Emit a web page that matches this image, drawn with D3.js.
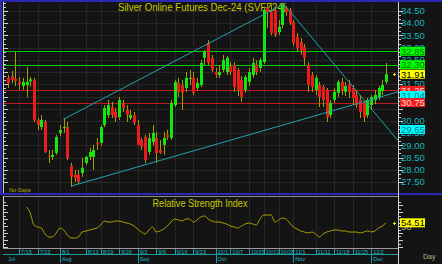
<!DOCTYPE html>
<html>
<head>
<meta charset="utf-8">
<script src="https://cdn.jsdelivr.net/npm/d3@7"></script>
<style>
  body { margin: 0; background: #141414; }
  svg { display: block; font-family: "Liberation Sans", Arial, sans-serif; }
</style>
</head>
<body>
<script>
// daily candles
var opens = [31.76,31.84,31.72,31.60,31.43,31.47,31.62,31.68,30.04,29.75,
  29.96,28.57,28.53,28.69,29.51,29.71,29.75,28.16,27.79,27.79,
  27.87,28.28,28.53,28.53,29.10,29.10,29.83,30.24,30.57,30.37,
  30.16,30.74,30.45,30.12,30.24,29.83,29.22,29.34,28.73,29.14,
  29.30,28.81,29.02,29.43,29.30,30.65,31.55,31.47,31.35,31.72,
  31.76,31.35,31.47,32.58,33.19,32.58,32.00,31.88,32.09,32.00,
  32.21,32.29,32.09,31.68,31.27,31.60,31.88,32.29,32.17,32.41,
  34.62,34.46,34.54,33.64,33.93,34.62,34.54,34.05,33.44,33.23,
  33.03,32.29,31.88,31.27,31.47,31.39,31.27,30.24,30.86,31.15,
  31.60,31.19,31.51,31.35,31.06,30.86,30.74,30.24,30.65,30.86,
  30.98,31.23,31.60];
var highs = [31.88,32.05,32.82,31.80,31.76,32.21,31.80,31.76,30.12,30.24,
  30.04,28.81,28.81,29.43,29.83,30.12,29.96,28.28,27.99,27.99,
  28.49,28.57,28.90,29.02,29.30,29.83,30.65,30.86,30.78,30.53,
  30.98,30.86,30.65,30.45,30.37,30.04,29.30,29.43,29.51,29.83,
  29.55,29.22,29.55,29.63,30.86,31.68,31.76,31.68,32.00,32.09,
  32.00,31.76,32.49,32.90,33.31,32.70,32.17,32.29,32.70,32.66,
  32.41,32.41,32.17,31.84,31.88,32.17,32.58,32.49,32.58,34.66,
  34.79,34.75,34.66,34.13,34.83,34.70,34.62,34.13,33.60,33.39,
  33.15,32.41,32.00,31.88,31.60,31.47,31.35,30.86,31.35,31.68,
  31.76,31.60,31.68,31.47,31.27,31.06,30.86,30.94,31.06,31.27,
  31.43,31.68,32.37];
var lows = [31.35,31.55,31.43,31.27,31.27,30.98,31.40,29.96,29.63,29.63,
  28.69,28.28,28.40,28.61,29.38,29.51,28.40,27.30,27.51,27.42,
  27.71,28.20,28.40,27.99,28.81,28.98,29.75,30.12,30.12,29.96,
  30.04,30.37,29.96,30.04,29.83,29.02,28.81,28.28,28.61,28.98,
  28.28,28.65,28.61,29.22,29.22,30.57,30.98,30.45,31.19,31.47,
  31.06,31.23,31.39,32.29,32.29,32.00,31.76,31.76,32.00,31.88,
  31.88,31.19,31.02,30.78,31.15,31.43,31.76,31.88,32.00,32.33,
  33.80,33.52,33.44,33.52,33.80,34.30,33.93,33.07,32.82,32.70,
  32.25,31.19,31.19,31.06,30.57,30.57,29.96,30.12,30.74,30.98,
  31.06,31.02,30.94,30.65,30.53,30.12,29.96,30.12,30.45,30.69,
  30.86,31.06,31.51];
var closes = [31.55,31.68,31.64,31.51,31.60,31.60,31.70,30.04,29.83,30.04,
  28.73,28.53,28.61,29.34,29.63,29.75,28.49,27.71,27.67,27.51,
  28.08,28.53,28.73,28.81,29.04,29.75,30.53,30.65,30.24,30.12,
  30.86,30.53,30.24,30.24,29.92,29.02,28.94,28.40,29.30,29.51,
  28.69,28.69,29.30,29.34,30.74,31.60,31.19,31.15,31.76,31.76,
  31.15,31.55,32.37,32.82,32.37,32.09,31.88,32.00,32.49,32.58,
  32.00,31.39,31.27,30.98,31.80,32.00,32.37,32.00,32.49,34.54,
  34.46,33.60,33.52,33.85,34.75,34.46,34.01,33.19,32.99,32.90,
  32.58,31.47,31.39,31.76,30.98,30.86,30.16,30.74,31.19,31.60,
  31.27,31.43,31.19,30.94,30.65,30.37,30.16,30.86,30.98,31.06,
  31.35,31.47,31.91];

// relative strength index, one value per candle (blank before it starts)
var rsiValues = [null,null,null,null,null,
  77.1,68.6,51.4,48.6,47.1,38.6,34.3,34.3,40.0,47.1,
  44.3,37.1,32.9,32.9,34.3,41.4,42.9,44.3,45.7,47.1,
  51.4,57.1,55.7,55.7,57.1,57.1,55.7,54.3,52.9,50.0,
  45.7,41.4,38.6,44.3,48.6,41.4,42.9,45.7,50.0,55.7,
  60.0,58.6,57.1,60.0,60.0,55.7,58.6,62.9,64.3,60.0,
  57.1,55.7,55.7,54.3,52.9,50.0,48.6,47.1,50.0,52.9,
  54.3,52.9,51.4,60.0,65.7,65.7,65.7,55.7,58.6,61.4,
  60.0,54.3,48.6,45.7,42.9,41.4,40.0,41.4,38.6,34.3,
  38.6,41.4,42.9,44.3,44.3,42.9,42.9,41.4,41.4,41.4,
  40.0,41.4,42.9,41.4,42.9,47.1,50.0,54.51];

// date axis: labels and the candle they sit on
var dayLabels = ["7/15","7/23","8/1","8/13","8/19","8/26","9/3","9/9","9/16","9/23",
  "10/1","10/7","10/15","10/21","10/28","11/1","11/11","11/18","11/25","12/2"];
var dayIndex = [3,8,14,21,25,30,35,40,45,50,56,60,65,69,73,77,83,88,93,98];
var monthLabels = ["Jul","Aug","Sep","Oct","Nov","Dec"];
var monthIndex = [-1,14,35,56,77,98];

// price levels
var levelValues = [32.85, 32.30, 31.25, 30.75];
var levelKinds = ["green","green","red","red"];

// trend lines: [candle index, price] anchors
var trendLines = [
  [[15, 30.07], [60, 33.64]],
  [[17, 27.33], [100, 30.96]],
  [[75, 34.68], [102, 29.78]]
];

// right-hand price tags
var tagValues = [32.85, 32.30, 31.91, 31.25, 31.04, 30.75, 29.65];
var tagKinds = ["green","green","yellow","red","cyan","red","cyan"];

var priceTicks = d3.range(27.5, 34.51, 0.5);
// tick labels the chart still prints (the others sit under a tag)
var priceLabels = [27.5, 28, 28.5, 29, 29.5, 30, 31.5, 32.5, 33, 33.5, 34, 34.5];

var tagStyle = {
  green: {fill: "#00ff00", text: "#007a00"},
  yellow: {fill: "#ffff00", text: "#000000"},
  red: {fill: "#ee1c1c", text: "#ffd6d6"},
  cyan: {fill: "#00ffff", text: "#007f86"}
};
var lineColor = {green: "#00cc00", red: "#b81c1c"};

var W = 442, H = 264;
var plot = {left: 4, right: 398, top: 3, bottom: 193};
var rsiBox = {top: 196, bottom: 248};

var n = closes.length;
var x = d3.scaleLinear().domain([0, n - 1]).range([8, 386]);
var y = d3.scaleLinear().domain([27.5, 34.5]).range([182, 11]);
var yR = d3.scaleLinear().domain([20, 90]).range([247, 198]);

var svg = d3.select("body").append("svg")
    .attr("width", W)
    .attr("height", H);

svg.append("rect").attr("width", W).attr("height", H).attr("fill", "#141414");

var defs = svg.append("defs");
defs.append("clipPath").attr("id", "clipMain").append("rect")
    .attr("x", plot.left).attr("y", plot.top)
    .attr("width", plot.right - plot.left).attr("height", plot.bottom - plot.top);

// grid
var grid = svg.append("g").attr("stroke", "#272727").attr("shape-rendering", "crispEdges");
grid.selectAll(".hg").data(priceTicks).enter().append("line")
    .attr("x1", plot.left).attr("x2", plot.right)
    .attr("y1", d => Math.round(y(d)) + 0.5).attr("y2", d => Math.round(y(d)) + 0.5);
grid.selectAll(".vg").data(dayIndex).enter().append("line")
    .attr("x1", d => Math.round(x(d)) + 0.5).attr("x2", d => Math.round(x(d)) + 0.5)
    .attr("y1", plot.top).attr("y2", plot.bottom);
grid.selectAll(".vr").data(dayIndex).enter().append("line")
    .attr("x1", d => Math.round(x(d)) + 0.5).attr("x2", d => Math.round(x(d)) + 0.5)
    .attr("y1", rsiBox.top).attr("y2", rsiBox.bottom);

// title
svg.append("text")
    .attr("x", 202).attr("y", 11)
    .attr("text-anchor", "middle")
    .attr("font-size", 11)
    .attr("textLength", 168).attr("lengthAdjust", "spacingAndGlyphs")
    .attr("fill", "#c8c800")
    .text("Silver Online Futures Dec-24 (SVFZ24)");

var main = svg.append("g").attr("clip-path", "url(#clipMain)");

// horizontal levels
main.selectAll(".lvl").data(levelValues).enter().append("rect")
    .attr("x", plot.left).attr("width", plot.right - plot.left)
    .attr("y", d => Math.round(y(d))).attr("height", 1)
    .attr("fill", (d, i) => lineColor[levelKinds[i]]);

// candles
var idx = d3.range(n);
main.selectAll(".wick").data(idx).enter().append("line")
    .attr("x1", i => Math.round(x(i)) + 0.5).attr("x2", i => Math.round(x(i)) + 0.5)
    .attr("y1", i => y(highs[i])).attr("y2", i => y(lows[i]))
    .attr("stroke", "#a39d00");
main.selectAll(".body").data(idx).enter().append("rect")
    .attr("x", i => Math.round(x(i)) - 1)
    .attr("width", 3)
    .attr("y", i => y(Math.max(opens[i], closes[i])))
    .attr("height", i => Math.max(1, Math.abs(y(opens[i]) - y(closes[i]))))
    .attr("fill", i => closes[i] >= opens[i] ? "#10e810" : "#ec1c1c");

// trend lines, extended through the plot
var idxRight = x.invert(plot.right);
main.selectAll(".trend").data(trendLines).enter().append("line")
    .attr("x1", d => x(d[0][0]))
    .attr("y1", d => y(d[0][1]))
    .attr("x2", x(idxRight))
    .attr("y2", d => y(d[0][1] + (d[1][1] - d[0][1]) * (idxRight - d[0][0]) / (d[1][0] - d[0][0])))
    .attr("stroke", "#1fa3ad")
    .attr("stroke-width", 1);

svg.append("text").attr("x", 9).attr("y", 191.5)
    .attr("font-size", 5.5).attr("fill", "#b0a800").text("No Gaps");

// RSI panel
svg.append("text")
    .attr("x", 200).attr("y", 207)
    .attr("text-anchor", "middle")
    .attr("font-size", 10)
    .attr("textLength", 95).attr("lengthAdjust", "spacingAndGlyphs")
    .attr("fill", "#c8c800")
    .text("Relative Strength Index");

svg.append("path")
    .datum(idx)
    .attr("fill", "none")
    .attr("stroke", "#aaa000")
    .attr("stroke-width", 1)
    .attr("d", d3.line()
        .defined(i => rsiValues[i] != null)
        .x(i => x(i))
        .y(i => yR(rsiValues[i]))
        .curve(d3.curveMonotoneX));

// frames
svg.append("rect").attr("x", 0).attr("y", 0).attr("width", W).attr("height", 2).attr("fill", "#2a2ab4");
svg.append("rect").attr("x", 0).attr("y", 0).attr("width", 2).attr("height", 195).attr("fill", "#2a2ab4");
svg.append("rect").attr("x", 0).attr("y", 193).attr("width", W).attr("height", 2).attr("fill", "#2a2ab4");
svg.append("line").attr("x1", 3).attr("x2", plot.right).attr("y1", 196.5).attr("y2", 196.5).attr("stroke", "#8a8a8a");

// axes lines
var ax = svg.append("g").attr("stroke", "#cfcfcf").attr("shape-rendering", "crispEdges");
ax.append("line").attr("x1", 398.5).attr("x2", 398.5).attr("y1", 2).attr("y2", H);
ax.append("line").attr("x1", 3.5).attr("x2", 3.5).attr("y1", 2).attr("y2", plot.bottom);
ax.append("line").attr("x1", 3.5).attr("x2", 3.5).attr("y1", rsiBox.top).attr("y2", rsiBox.bottom);

var minor = d3.range(27.5, 34.51, 0.5 / 3);
ax.selectAll(".rt").data(minor).enter().append("line")
    .attr("x1", 399).attr("x2", (d, i) => i % 3 === 0 ? 403 : 401)
    .attr("y1", d => Math.round(y(d)) + 0.5).attr("y2", d => Math.round(y(d)) + 0.5);
ax.selectAll(".lt").data(d3.range(27.5, 35.2, 0.5 / 3)).enter().append("line")
    .attr("x1", 4).attr("x2", (d, i) => i % 3 === 0 ? 8 : 6)
    .attr("y1", d => Math.round(y(d)) + 0.5).attr("y2", d => Math.round(y(d)) + 0.5);
ax.selectAll(".rl").data(d3.range(20, 90, 5)).enter().append("line")
    .attr("x1", 4).attr("x2", (d, i) => i % 2 === 0 ? 8 : 6)
    .attr("y1", d => Math.round(yR(d)) + 0.5).attr("y2", d => Math.round(yR(d)) + 0.5);
ax.selectAll(".rr").data(d3.range(20, 90, 5)).enter().append("line")
    .attr("x1", 399).attr("x2", (d, i) => i % 2 === 0 ? 403 : 401)
    .attr("y1", d => Math.round(yR(d)) + 0.5).attr("y2", d => Math.round(yR(d)) + 0.5);

// price labels
svg.selectAll(".pl").data(priceLabels).enter().append("text")
    .attr("x", 401).attr("y", d => y(d) + 3.2)
    .attr("font-size", 9.5).attr("fill", "#18b4bc")
    .text(d => d.toFixed(2));
svg.append("text").attr("x", 401).attr("y", yR(50) + 4)
    .attr("font-size", 9.5).attr("fill", "#a8a8a8").text("50");

// price tags
var tags = svg.selectAll(".tag").data(tagValues).enter().append("g")
    .attr("transform", d => "translate(400," + y(d) + ")");
tags.append("rect").attr("x", 0).attr("y", -4.5).attr("width", 25).attr("height", 9)
    .attr("fill", (d, i) => tagStyle[tagKinds[i]].fill);
tags.append("text").attr("x", 1).attr("y", 3.3)
    .attr("font-size", 9.5)
    .attr("fill", (d, i) => tagStyle[tagKinds[i]].text)
    .text(d => d.toFixed(2));

var lastRsi = rsiValues[n - 1];
var rtag = svg.append("g").attr("transform", "translate(400," + yR(lastRsi) + ")");
rtag.append("rect").attr("x", 0).attr("y", -4.5).attr("width", 25).attr("height", 9).attr("fill", "#ffff00");
rtag.append("text").attr("x", 1).attr("y", 3.3).attr("font-size", 9.5).attr("fill", "#000").text(lastRsi.toFixed(2));

// last value markers
[y(closes[n - 1]), yR(lastRsi)].forEach(function (py) {
  var g = svg.append("g").attr("stroke", "#e8e800").attr("shape-rendering", "crispEdges");
  g.append("line").attr("x1", 393).attr("x2", 396).attr("y1", Math.round(py) + 0.5).attr("y2", Math.round(py) + 0.5);
  g.append("line").attr("x1", 394.5).attr("x2", 394.5).attr("y1", Math.round(py) - 1).attr("y2", Math.round(py) + 2);
});

// date axis
var dx = svg.append("g").attr("shape-rendering", "crispEdges");
dx.append("line").attr("x1", 3).attr("x2", plot.right).attr("y1", 248.5).attr("y2", 248.5).attr("stroke", "#9a9a9a");
dx.append("line").attr("x1", 3).attr("x2", plot.right).attr("y1", 254.5).attr("y2", 254.5).attr("stroke", "#1c9ea6");
dx.selectAll(".dt").data(dayIndex).enter().append("line")
    .attr("x1", d => Math.round(x(d)) + 0.5).attr("x2", d => Math.round(x(d)) + 0.5)
    .attr("y1", 249).attr("y2", 254).attr("stroke", "#1c9ea6");
dx.selectAll(".mt").data(monthIndex.slice(1)).enter().append("line")
    .attr("x1", d => Math.round(x(d)) + 0.5).attr("x2", d => Math.round(x(d)) + 0.5)
    .attr("y1", 249).attr("y2", 263).attr("stroke", "#1c9ea6");
svg.selectAll(".dl").data(dayLabels).enter().append("text")
    .attr("x", (d, i) => x(dayIndex[i]) + 2).attr("y", 253.6)
    .attr("font-size", 5.5).attr("fill", "#22b8c0")
    .text(d => d);
svg.selectAll(".ml").data(monthLabels).enter().append("text")
    .attr("x", (d, i) => Math.max(x(monthIndex[i]), 6) + 2).attr("y", 261)
    .attr("font-size", 5.5).attr("fill", "#22b8c0")
    .text(d => d);
svg.append("text").attr("x", 423).attr("y", 258.5)
    .attr("font-size", 7).attr("fill", "#b8b48a").text("Day");
</script>
</body>
</html>
